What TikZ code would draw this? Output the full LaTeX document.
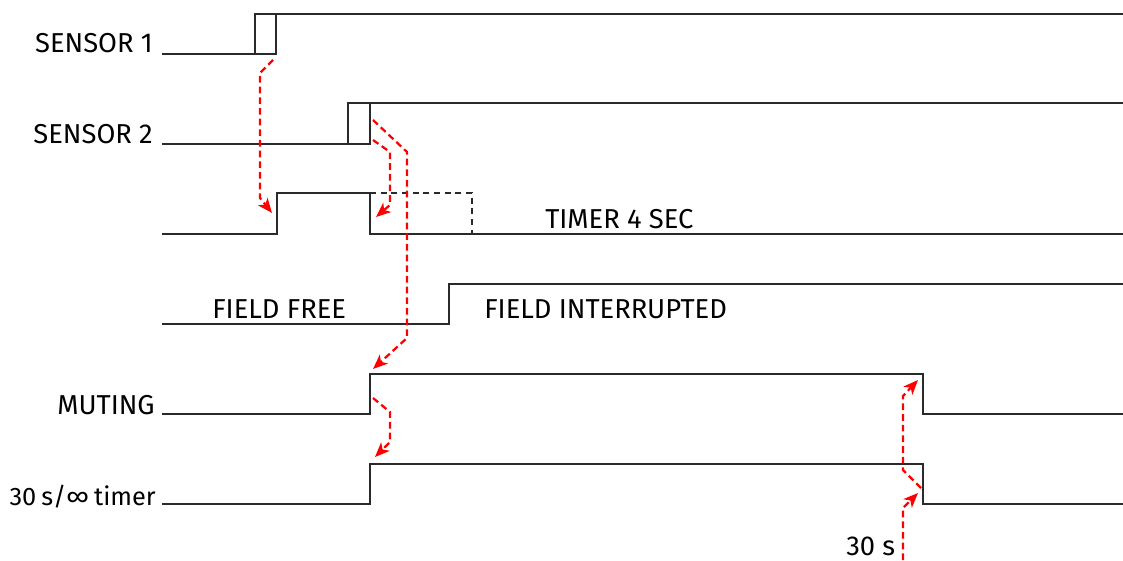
\documentclass[tikz,border=0pt]{standalone}
\usepackage{fontspec}
\setmainfont{Fira Sans}
\usetikzlibrary{arrows.meta}
\definecolor{sig}{HTML}{2A2A2A}
\begin{document}
\begin{tikzpicture}[x=0.75pt,y=-0.75pt,
  signal/.style={draw=sig,line width=2.2pt,line join=miter},
  dsignal/.style={signal,dash pattern=on 4.5pt off 3.5pt},
  redarrow/.style={draw=red,line width=1.7pt,dash pattern=on 5pt off 3pt,
    -{Stealth[length=11pt,width=9pt,inset=3pt]}},
  lbl/.style={font=\fontsize{20.5}{24}\selectfont,inner sep=0pt,text=black}]
\useasboundingbox (0,0) rectangle (1123,560);
% labels
\node[lbl,anchor=base east] (s1) at (153,53) {SENSOR 1};
\node[lbl,anchor=base east] (s2) at (153,143) {SENSOR 2};
\node[lbl,anchor=base east] (mu) at (155,414) {MUTING};
\node[lbl,anchor=base east,font=\fontsize{19}{24}\selectfont] (tm) at (156,505) {30\hspace{0.2em}s/∞\hspace{0.2em}timer};
\node[lbl,anchor=base west] (t4) at (545,228) {TIMER 4 SEC};
\node[lbl,anchor=base west] (ff) at (212,318) {FIELD FREE};
\node[lbl,anchor=base west] (fi) at (484,318) {FIELD INTERRUPTED};
\node[lbl,anchor=base west] (ts) at (846,555) {30 s};
% SENSOR 1
\draw[signal] (162,54) -- (276,54) -- (276,14) -- (255,14) -- (255,54);
\draw[signal] (255,14) -- (1123,14);
% SENSOR 2
\draw[signal] (162,144) -- (370,144) -- (370,103) -- (348,103) -- (348,144);
\draw[signal] (348,103) -- (1123,103);
% TIMER
\draw[signal] (162,234) -- (277,234) -- (277,193) -- (370,193) -- (370,234) -- (1123,234);
\draw[dsignal] (370,193) -- (472,193) -- (472,234);
% FIELD
\draw[signal] (162,324) -- (449,324) -- (449,284) -- (1123,284);
% MUTING
\draw[signal] (162,414) -- (370,414) -- (370,374) -- (923,374) -- (923,414) -- (1123,414);
% 30 s timer
\draw[signal] (162,504) -- (370,504) -- (370,464) -- (923,464) -- (923,504) -- (1123,504);
% red arrows
\draw[redarrow] (273,60) -- (260,73) -- (260,198) -- (272,213);
\draw[redarrow] (373,140) -- (390,152) -- (390,205) -- (376,217);
\draw[redarrow] (373,120) -- (407,152) -- (407,338) -- (373,369);
\draw[redarrow] (373,398) -- (390,412) -- (390,442) -- (375,457);
\draw[redarrow] (903,560) -- (903,508) -- (918,493);
\draw[redarrow] (921,488) -- (903,470) -- (903,396) -- (918,380);
\end{tikzpicture}
\end{document}
